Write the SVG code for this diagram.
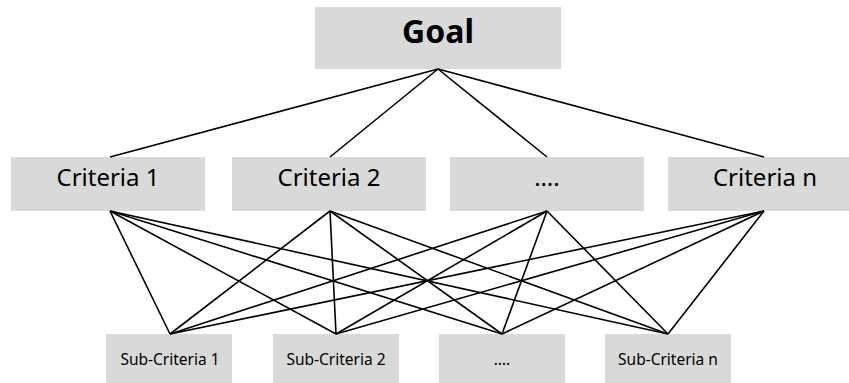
<svg xmlns="http://www.w3.org/2000/svg" width="849" height="383" viewBox="0 0 849 383">
<style>
.box{fill:#d9d9d9}
.t{font-family:"Noto Sans","DejaVu Sans",sans-serif;fill:#000;text-anchor:middle}
.goal{font-size:32px;font-weight:bold}
.crit{font-size:24px}
.sub{font-size:15.5px}
.c line{stroke:#000;stroke-width:1.6}
</style>
<rect width="849" height="383" fill="#fff"/>
<g id="goal"><rect class="box" x="315" y="7" width="246" height="62"/><text class="t goal" x="438" y="43">Goal</text></g>
<g id="criteria1"><rect class="box" x="11" y="157" width="194" height="54"/><text class="t crit" x="108" y="186">Criteria 1</text></g>
<g id="criteria2"><rect class="box" x="232" y="157" width="194" height="54"/><text class="t crit" x="329" y="186">Criteria 2</text></g>
<g id="criteria3"><rect class="box" x="450" y="157" width="194" height="54"/><text class="t crit" x="547" y="186">….</text></g>
<g id="criterian"><rect class="box" x="668" y="157" width="194" height="54"/><text class="t crit" x="765" y="186">Criteria n</text></g>
<g id="sub1"><rect class="box" x="106" y="334" width="126" height="52"/><text class="t sub" x="170" y="365">Sub-Criteria 1</text></g>
<g id="sub2"><rect class="box" x="273" y="334" width="126" height="52"/><text class="t sub" x="336" y="365">Sub-Criteria 2</text></g>
<g id="sub3"><rect class="box" x="439" y="334" width="126" height="52"/><text class="t sub" x="502" y="365">….</text></g>
<g id="subn"><rect class="box" x="605" y="334" width="126" height="52"/><text class="t sub" x="668" y="365">Sub-Criteria n</text></g>
<g id="connectors" class="c">
<line x1="438" y1="69" x2="110" y2="157"/>
<line x1="438" y1="69" x2="330" y2="157"/>
<line x1="438" y1="69" x2="547" y2="157"/>
<line x1="438" y1="69" x2="764" y2="157"/>
<line x1="110" y1="211" x2="170" y2="334"/>
<line x1="110" y1="211" x2="336" y2="334"/>
<line x1="110" y1="211" x2="502" y2="334"/>
<line x1="110" y1="211" x2="668" y2="334"/>
<line x1="330" y1="211" x2="170" y2="334"/>
<line x1="330" y1="211" x2="336" y2="334"/>
<line x1="330" y1="211" x2="502" y2="334"/>
<line x1="330" y1="211" x2="668" y2="334"/>
<line x1="547" y1="211" x2="170" y2="334"/>
<line x1="547" y1="211" x2="336" y2="334"/>
<line x1="547" y1="211" x2="502" y2="334"/>
<line x1="547" y1="211" x2="668" y2="334"/>
<line x1="764" y1="211" x2="170" y2="334"/>
<line x1="764" y1="211" x2="336" y2="334"/>
<line x1="764" y1="211" x2="502" y2="334"/>
<line x1="764" y1="211" x2="668" y2="334"/>
</g>
</svg>
